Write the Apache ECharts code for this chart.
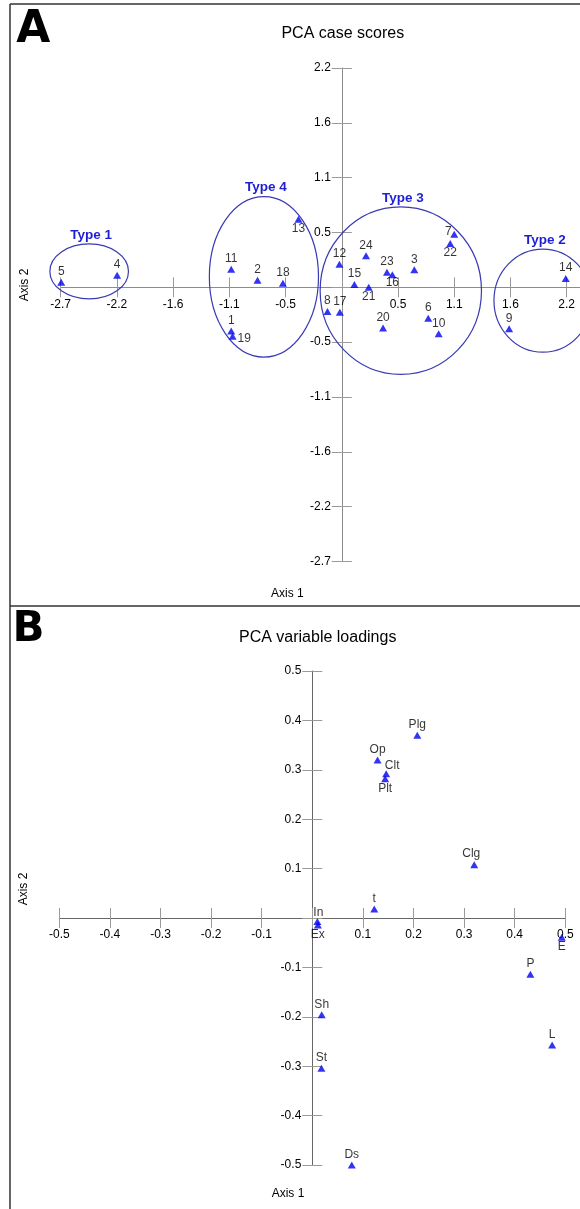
<!DOCTYPE html>
<html>
<head>
<meta charset="utf-8">
<script src="https://cdn.jsdelivr.net/npm/echarts@6/dist/echarts.min.js"></script>
<style>
html,body{margin:0;padding:0;background:#fff;}
#chart{width:580px;height:1209px;}
</style>
</head>
<body>
<div id="chart"></div>
<script>
// ---------- Panel A: PCA case scores ----------
const caseNames = ['1','2','3','4','5','6','7','8','9','10','11','12','13','14','15','16','17','18','19','20','21','22','23','24'];
const caseAxis1 = [-1.072,-0.817,0.703,-2.178,-2.720,0.838,1.090,-0.139,1.622,0.939,-1.072,-0.023,-0.420,2.171,0.122,0.490,-0.019,-0.571,-1.059,0.400,0.261,1.051,0.438,0.235];
const caseAxis2 = [-0.435,0.070,0.175,0.120,0.050,-0.307,0.528,-0.240,-0.412,-0.462,0.180,0.230,0.677,0.089,0.027,0.126,-0.247,0.040,-0.485,-0.405,0.000,0.436,0.149,0.314];

// grouping ellipses (centre and semi-axes in axis units)
const typeNames = ['Type 1','Type 2','Type 3','Type 4'];
const typeCx = [-2.449, 1.949, 0.572, -0.755];
const typeCy = [0.158, -0.132, -0.033, 0.104];
const typeRx = [0.381, 0.474, 0.782, 0.529];
const typeRy = [0.273, 0.512, 0.832, 0.797];

const caseXTickLabels = ['-2.7','-2.2','-1.6','-1.1','-0.5','','0.5','1.1','1.6','2.2','2.7'];
const caseYTickLabels = ['-2.7','-2.2','-1.6','-1.1','-0.5','','0.5','1.1','1.6','2.2'];
const CASE_STEP = 0.545;

// ---------- Panel B: PCA variable loadings ----------
const varNames = ['Plg','Op','Clt','Plt','Clg','t','In','Ex','E','P','Sh','St','Ds','L'];
const varAxis1 = [0.2075,0.129,0.146,0.144,0.320,0.1225,0.010,0.011,0.493,0.431,0.0186,0.018,0.078,0.474];
const varAxis2 = [0.370,0.320,0.292,0.282,0.108,0.018,-0.007,-0.014,-0.039,-0.114,-0.196,-0.304,-0.500,-0.257];

const varTickLabels = ['-0.5','-0.4','-0.3','-0.2','-0.1','','0.1','0.2','0.3','0.4','0.5'];
const VAR_STEP = 0.1;

// ---------- label placement (style only) ----------
const CASE_LABEL_PLACE = {
  '7':  { position: 'top', distance: 1, offset: [-6, 8] },
  '13': { position: 'bottom', distance: 0 },
  '16': { position: 'bottom', distance: -1 },
  '21': { position: 'bottom', distance: 0 },
  '22': { position: 'bottom', distance: 0 },
  '19': { position: 'right', distance: 1, offset: [0, 3] }
};
const VAR_LABEL_PLACE = {
  'Clt': { position: 'top', distance: 1, offset: [6, 2] },
  'Plt': { position: 'bottom', distance: 0 },
  'Clg': { position: 'top', distance: 1, offset: [-3, 0] },
  'In':  { position: 'top', distance: 1, offset: [1, 2] },
  'Ex':  { position: 'bottom', distance: 0 },
  'E':   { position: 'bottom', distance: 0 }
};

const FONT = '"Liberation Sans", Arial, sans-serif';
const MARK = '#0000f0';

// grid geometry (layout only)
const GRID_A = { left: 60.7, top: 68, width: 562.2, height: 493.5 };
const GRID_B = { left: 59.3, top: 671, width: 506, height: 494 };
const A_X = [-5 * CASE_STEP, 5 * CASE_STEP], A_Y = [-5 * CASE_STEP, 4 * CASE_STEP];
const B_X = [-0.5, 0.5], B_Y = [-0.5, 0.5];

function buildPoints(names, xs, ys, place) {
  return names.map(function (n, i) {
    const p = place[n] || { position: 'top', distance: 1 };
    return { name: n, value: [xs[i], ys[i]], label: Object.assign({}, p) };
  });
}

// offset that moves an edge axis onto the zero line of the crossing axis
function zeroOffset(range, size) { return -((0 - range[0]) / (range[1] - range[0])) * size; }

function axisPair(kind, gridIndex, range, step, labels, lineColor, offset) {
  const min = range[0], max = range[1];
  const fmt = function (v) { return labels[Math.round((v - min) / step)] || ''; };
  const base = { type: 'value', gridIndex: gridIndex, min: min, max: max, interval: step,
    position: kind === 'x' ? 'bottom' : 'left', offset: offset, splitLine: { show: false } };
  return [
    Object.assign({}, base, {
      axisLine: { show: true, onZero: false, lineStyle: { color: lineColor, width: 1 } },
      axisTick: { show: true, inside: false, length: 10, lineStyle: { color: '#9a9a9a', width: 1 } },
      axisLabel: { show: true, margin: 11, color: '#000', fontSize: 12, fontFamily: FONT, formatter: fmt,
        showMinLabel: true, showMaxLabel: true, hideOverlap: false }
    }),
    Object.assign({}, base, {
      axisLine: { show: false, onZero: false },
      axisTick: { show: true, inside: true, length: 10, lineStyle: { color: '#9a9a9a', width: 1 } },
      axisLabel: { show: false }
    })
  ];
}

const chart = echarts.init(document.getElementById('chart'), null, { renderer: 'canvas' });

const textStyle = function (t, size, extra) {
  return Object.assign({ text: t, fill: '#000', fontSize: size, fontFamily: FONT, align: 'center', verticalAlign: 'middle' }, extra || {});
};

const option = {
  backgroundColor: '#ffffff',
  animation: false,
  grid: [
    Object.assign({ containLabel: false, outerBoundsMode: 'none' }, GRID_A),
    Object.assign({ containLabel: false, outerBoundsMode: 'none' }, GRID_B)
  ],
  xAxis: [].concat(
    axisPair('x', 0, A_X, CASE_STEP, caseXTickLabels, '#8c8c8c', zeroOffset(A_Y, GRID_A.height)),
    axisPair('x', 1, B_X, VAR_STEP, varTickLabels, '#666666', zeroOffset(B_Y, GRID_B.height))
  ),
  yAxis: [].concat(
    axisPair('y', 0, A_Y, CASE_STEP, caseYTickLabels, '#8c8c8c', zeroOffset(A_X, GRID_A.width)),
    axisPair('y', 1, B_Y, VAR_STEP, varTickLabels, '#666666', zeroOffset(B_X, GRID_B.width))
  ),
  graphic: [
    { type: 'line', shape: { x1: 10, y1: 4, x2: 10, y2: 1209 }, style: { stroke: '#333', lineWidth: 1.5 } },
    { type: 'line', shape: { x1: 10, y1: 4, x2: 580, y2: 4 }, style: { stroke: '#333', lineWidth: 1.5 } },
    { type: 'line', shape: { x1: 10, y1: 606, x2: 580, y2: 606 }, style: { stroke: '#333', lineWidth: 1.5 } },
    { type: 'text', x: 33.3, y: 30.5, style: textStyle('A', 44, { fontFamily: '"DejaVu Sans"', fontWeight: 'bold', fill: '#000' }) },
    { type: 'text', x: 28.5, y: 630.5, style: textStyle('B', 42, { fontFamily: '"DejaVu Sans"', fontWeight: 'bold', fill: '#000' }) },
    { type: 'text', x: 342.8, y: 34, style: textStyle('PCA case scores', 16) },
    { type: 'text', x: 317.7, y: 637.3, style: textStyle('PCA variable loadings', 16) },
    { type: 'text', x: 287.3, y: 593.3, style: textStyle('Axis 1', 12) },
    { type: 'text', x: 288, y: 1194, style: textStyle('Axis 1', 12) },
    { type: 'text', x: 25, y: 285, rotation: Math.PI / 2, style: textStyle('Axis 2', 12) },
    { type: 'text', x: 24, y: 889, rotation: Math.PI / 2, style: textStyle('Axis 2', 12) }
  ],
  series: [
    {
      type: 'custom',
      name: 'Types',
      xAxisIndex: 0, yAxisIndex: 0,
      clip: false,
      silent: true,
      encode: { x: 0, y: 1 },
      data: typeNames.map(function (n, i) { return [typeCx[i], typeCy[i], typeRx[i], typeRy[i]]; }),
      renderItem: function (params, api) {
        const c = api.coord([api.value(0), api.value(1)]);
        const s = api.size([api.value(2), api.value(3)]);
        return {
          type: 'group',
          children: [
            { type: 'ellipse', shape: { cx: c[0], cy: c[1], rx: s[0], ry: s[1] },
              style: { fill: 'none', stroke: '#3a3ab4', lineWidth: 1.2 } },
            { type: 'text', x: c[0] + 2, y: c[1] - s[1] - 9,
              style: { text: typeNames[params.dataIndex], fill: '#1e1ed6', fontSize: 13.5, fontWeight: 'bold',
                fontFamily: FONT, align: 'center', verticalAlign: 'middle' } }
          ]
        };
      }
    },
    {
      type: 'scatter',
      name: 'Cases',
      xAxisIndex: 0, yAxisIndex: 0,
      clip: false,
      symbol: 'triangle',
      symbolSize: [8, 7],
      itemStyle: { color: MARK },
      label: { show: true, formatter: '{b}', color: '#000', fontSize: 12, fontFamily: FONT },
      data: buildPoints(caseNames, caseAxis1, caseAxis2, CASE_LABEL_PLACE)
    },
    {
      type: 'scatter',
      name: 'Variables',
      xAxisIndex: 2, yAxisIndex: 2,
      clip: false,
      symbol: 'triangle',
      symbolSize: [8, 7],
      itemStyle: { color: MARK },
      label: { show: true, formatter: '{b}', color: '#000', fontSize: 12, fontFamily: FONT },
      data: buildPoints(varNames, varAxis1, varAxis2, VAR_LABEL_PLACE)
    }
  ]
};
chart.setOption(option);
</script>
</body>
</html>
